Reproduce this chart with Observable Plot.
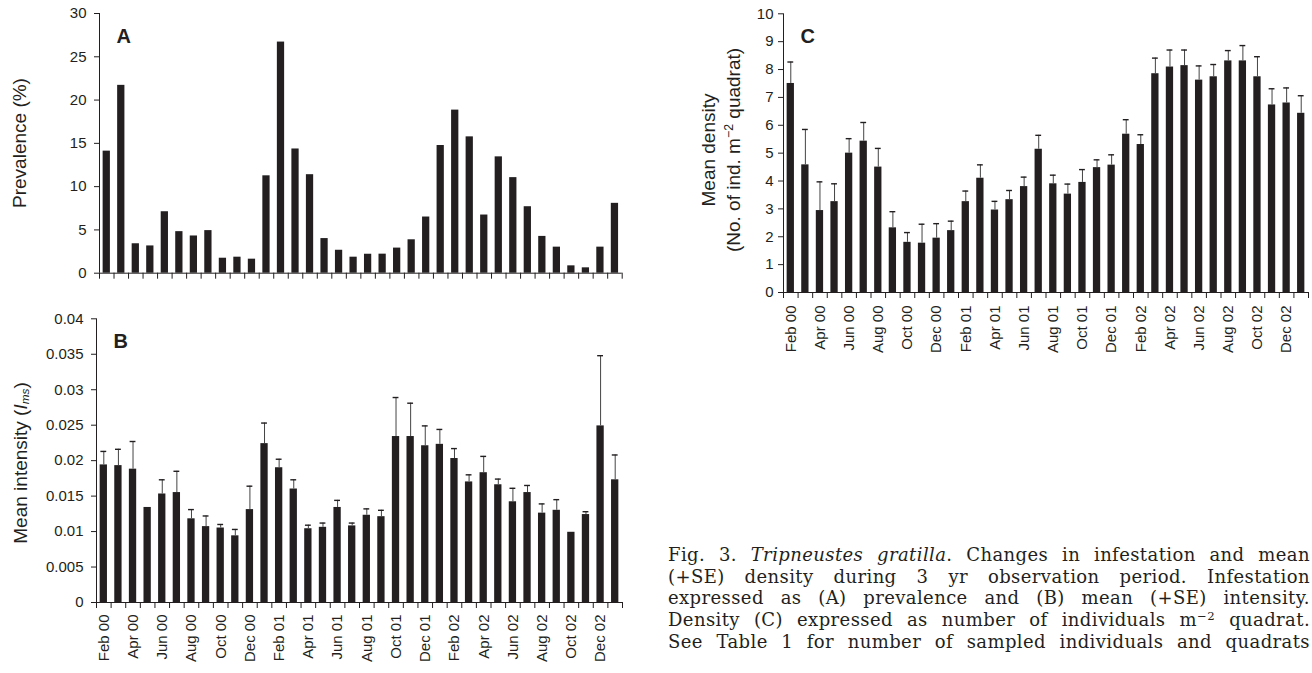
<!DOCTYPE html>
<html><head><meta charset="utf-8">
<script src="https://cdn.jsdelivr.net/npm/d3@7"></script>
<script src="https://cdn.jsdelivr.net/npm/@observablehq/plot@0.6"></script>
<style>
body{margin:0;background:#fff;}
#wrap{position:relative;width:1312px;height:673px;overflow:hidden;font-family:"Liberation Sans",Arial,sans-serif;color:#231f20;background:#fff;}
.panel{position:absolute;}
.ylab{position:absolute;font-size:19px;white-space:nowrap;transform:translate(-50%,-50%) rotate(-90deg);line-height:1;}
#caption{position:absolute;left:668px;top:544px;width:642px;font-family:"DejaVu Serif",serif;font-size:18px;line-height:21.7px;color:#231f20;letter-spacing:0.4px;}
#caption div{text-align:justify;text-align-last:justify;white-space:nowrap;}
sup{font-size:0.65em;vertical-align:0.55em;line-height:0;}
sub{font-size:0.62em;vertical-align:-0.25em;line-height:0;}
</style></head><body><div id="wrap">
<div id="pA" class="panel" style="left:0;top:0"></div>
<div id="pB" class="panel" style="left:0;top:300px"></div>
<div id="pC" class="panel" style="left:660px;top:0"></div>
<div class="ylab" style="left:19px;top:143px">Prevalence (%)</div>
<div class="ylab" style="left:20px;top:463px">Mean intensity (<i>I</i><sub><i>ms</i></sub>)</div>
<div class="ylab" style="left:708px;top:150px">Mean density</div>
<div class="ylab" style="left:733px;top:150px">(No. of ind. m<sup>−2</sup> quadrat)</div>
<div id="caption">
<div>Fig. 3. <i>Tripneustes gratilla</i>. Changes in infestation and mean</div>
<div>(+SE) density during 3 yr observation period. Infestation</div>
<div>expressed as (A) prevalence and (B) mean (+SE) intensity.</div>
<div>Density (C) expressed as number of individuals m<sup>−2</sup> quadrat.</div>
<div>See Table 1 for number of sampled individuals and quadrats</div>
</div>
</div>
<script>
const months = ["Feb 00","Mar 00","Apr 00","May 00","Jun 00","Jul 00","Aug 00","Sep 00","Oct 00","Nov 00","Dec 00",
  "Jan 01","Feb 01","Mar 01","Apr 01","May 01","Jun 01","Jul 01","Aug 01","Sep 01","Oct 01","Nov 01","Dec 01",
  "Jan 02","Feb 02","Mar 02","Apr 02","May 02","Jun 02","Jul 02","Aug 02","Sep 02","Oct 02","Nov 02","Dec 02","Jan 03"];
const tickLabels = ["Feb 00","Apr 00","Jun 00","Aug 00","Oct 00","Dec 00","Feb 01","Apr 01","Jun 01","Aug 01",
  "Oct 01","Dec 01","Feb 02","Apr 02","Jun 02","Aug 02","Oct 02","Dec 02"];
const prevalence = [14.1,21.7,3.4,3.15,7.1,4.8,4.3,4.92,1.73,1.85,1.62,11.25,26.7,14.35,11.38,4.0,2.65,1.85,2.19,2.2,2.9,3.86,6.49,14.75,18.84,15.75,6.72,13.44,11.04,7.68,4.25,3.01,0.85,0.62,3.01,8.07];
const intensity = [0.0194,0.0193,0.0188,0.0134,0.0153,0.0155,0.0118,0.0107,0.0105,0.0094,0.0131,0.0224,0.0190,0.0160,0.0104,0.0106,0.0134,0.0108,0.0123,0.0121,0.0234,0.0234,0.0221,0.0223,0.0203,0.0170,0.0183,0.0166,0.0142,0.0155,0.0126,0.0130,0.0099,0.0124,0.0249,0.0173];
const intensitySE = [0.0019,0.0023,0.0039,0,0.0020,0.0030,0.0013,0.0015,0.0005,0.0009,0.0033,0.0029,0.0012,0.0013,0.0005,0.0006,0.0010,0.0004,0.0009,0.0009,0.0055,0.0047,0.0028,0.0021,0.0014,0.0010,0.0023,0.0008,0.0019,0.0010,0.0013,0.0015,0,0.0004,0.0099,0.0035];
const density = [7.5,4.58,2.94,3.26,5.0,5.43,4.5,2.32,1.8,1.77,1.95,2.22,3.26,4.1,2.96,3.33,3.8,5.14,3.9,3.53,3.95,4.48,4.57,5.68,5.31,7.85,8.09,8.14,7.62,7.74,8.31,8.31,7.74,6.73,6.8,6.43];
const densitySE = [0.77,1.27,1.03,0.64,0.52,0.67,0.67,0.58,0.35,0.68,0.52,0.34,0.38,0.48,0.31,0.33,0.34,0.50,0.31,0.36,0.46,0.28,0.37,0.52,0.35,0.56,0.61,0.56,0.51,0.44,0.37,0.55,0.72,0.58,0.54,0.63];
const yTicksA = [0,5,10,15,20,25,30];
const yTicksB = [0,0.005,0.01,0.015,0.02,0.025,0.03,0.035,0.04];
const yTicksC = [0,1,2,3,4,5,6,7,8,9,10];

const INK = "#231f20";
function panel(o) {
  const data = months.map((m, i) => ({month: m, i, v: o.values[i], se: o.se ? o.se[i] : 0}));
  const withErr = data.filter(d => d.se > 0);
  const marks = [
    Plot.rectY(data, {x1: d => d.i + 0.25, x2: d => d.i + 0.75, y1: 0, y2: "v", fill: INK})
  ];
  if (o.se) {
    marks.push(Plot.ruleX(withErr, {x: d => d.i + 0.5, y1: "v", y2: d => d.v + d.se, stroke: "#444", strokeWidth: 1}));
    marks.push(Plot.ruleY(withErr, {x1: d => d.i + 0.3, x2: d => d.i + 0.7, y: d => d.v + d.se, stroke: INK, strokeWidth: 1.4}));
  }
  marks.push(Plot.ruleX([0], {stroke: INK, strokeWidth: 1}));
  marks.push(Plot.ruleY([0], {stroke: INK, strokeWidth: 1}));
  marks.push(Plot.axisY({ticks: o.yTicks, tickFormat: d => String(d), tickSize: 5, tickPadding: o.tickPadY, label: null, fontSize: 15}));
  marks.push(Plot.axisX({ticks: d3.range(0, months.length + 1), tickFormat: () => "", tickSize: 6, label: null}));
  if (o.labels) {
    marks.push(Plot.axisX({ticks: tickLabels.map(l => months.indexOf(l) + 0.5), tickFormat: v => months[Math.round(v - 0.5)],
      tickSize: 0, tickPadding: o.labelPad, tickRotate: -90, label: null, fontSize: 15}));
  }
  marks.push(Plot.text([o.letter], {text: d => d, frameAnchor: "top-left", dx: 17, dy: 15, fontWeight: "bold", fontSize: 20, lineAnchor: "top", textAnchor: "start", fill: INK}));
  return Plot.plot({
    width: o.width, height: o.height,
    marginLeft: o.marginLeft, marginRight: o.marginRight, marginTop: o.marginTop, marginBottom: o.marginBottom,
    x: {type: "linear", domain: [0, months.length]},
    y: {domain: o.yDomain},
    style: {fontFamily: "Liberation Sans, Arial, sans-serif", fontSize: "15px", color: INK, background: "transparent", overflow: "visible"},
    marks
  });
}

document.getElementById("pA").append(panel({values: prevalence, yDomain: [0, 30], yTicks: yTicksA, letter: "A",
  width: 640, height: 285, marginLeft: 99, marginRight: 18.3, marginTop: 13, marginBottom: 12.3, tickPadY: 8, labels: false}));
document.getElementById("pB").append(panel({values: intensity, se: intensitySE, yDomain: [0, 0.04], yTicks: yTicksB, letter: "B",
  width: 640, height: 373, marginLeft: 96, marginRight: 18, marginTop: 18.3, marginBottom: 71, tickPadY: 8, labels: true, labelPad: 12}));
document.getElementById("pC").append(panel({values: density, se: densitySE, yDomain: [0, 10], yTicks: yTicksC, letter: "C",
  width: 652, height: 370, marginLeft: 123, marginRight: 4, marginTop: 13.3, marginBottom: 78, tickPadY: 5, labels: true, labelPad: 13}));
</script>
</body></html>
